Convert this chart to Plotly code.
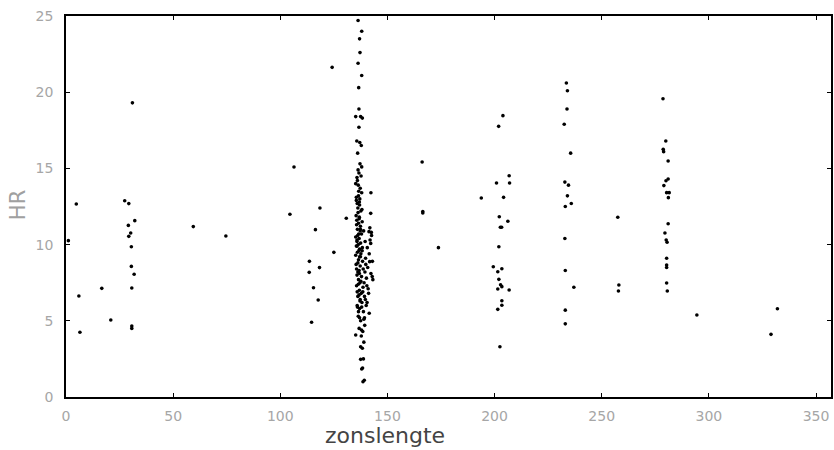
import plotly.graph_objects as go

# ---- data: zonslengte (x) vs HR (y) ----
# scattered points outside the dense band near 137
lon_scatter = [4.8, 1.1, 6.0, 6.5, 16.7, 20.9,
               27.4, 29.3, 32.1, 29.1, 30.2, 29.3, 30.5, 30.5, 31.8, 30.7, 30.7, 30.7, 31.0,
               59.4, 74.6,
               106.4, 104.5, 118.5, 116.4, 125.0, 113.6, 118.3, 113.5, 115.5, 117.7, 114.6, 124.2, 130.8,
               166.2, 166.5, 166.5, 173.8, 193.8,
               203.9, 201.9, 206.8, 200.9, 207.0, 204.2, 202.2, 206.2, 202.7, 203.3, 202.0, 199.4,
               203.4, 201.5, 202.0, 202.8, 203.4, 201.5, 206.8, 203.4, 203.4, 201.5, 202.5,
               233.5, 234.0, 233.8, 232.5, 235.5, 232.8, 234.5, 234.0, 235.8, 233.0, 232.8, 233.0,
               237.0, 233.0, 233.0,
               257.5, 258.0, 257.8,
               278.6, 279.9, 278.7, 278.9, 281.0, 281.0, 280.0, 279.0, 280.3, 281.5, 281.1, 281.0,
               279.5, 280.1, 280.5, 280.3, 280.3, 280.3, 280.3, 280.6,
               294.4, 332.0, 329.0]
hr_scatter = [12.66, 10.26, 6.63, 4.25, 7.13, 5.05,
              12.88, 12.69, 11.57, 11.26, 10.76, 10.54, 9.86, 8.57, 8.05, 7.15, 4.66, 4.50, 19.3,
              11.18, 10.56,
              15.09, 11.99, 12.40, 10.98, 9.49, 8.90, 8.49, 8.18, 7.17, 6.36, 4.90, 21.63, 11.73,
              15.42, 12.07, 12.17, 9.80, 13.06,
              18.46, 17.76, 14.52, 14.04, 14.04, 13.10, 11.83, 11.53, 11.14, 11.14, 9.86, 8.55,
              8.42, 8.22, 7.72, 7.37, 7.24, 7.09, 7.02, 6.32, 6.02, 5.75, 3.30,
              20.6, 20.1, 18.9, 17.9, 16.0, 14.1, 13.9, 13.2, 12.7, 12.5, 10.4, 8.3,
              7.2, 5.7, 4.8,
              11.79, 7.35, 6.96,
              19.57, 16.80, 16.25, 16.10, 15.49, 14.30, 14.19, 13.87, 13.41, 13.41, 13.08, 11.37,
              10.76, 10.30, 10.15, 9.10, 8.66, 8.50, 7.48, 6.96,
              5.38, 5.79, 4.11]

# dense band of points near zonslengte 135-143
lon_band = [136.3, 138.0, 137.0, 137.2, 136.3, 138.0, 136.6, 136.7, 135.2, 137.5, 138.3, 136.7,
            135.7, 137.1, 137.8, 136.1, 137.2, 138.0, 136.7, 135.8, 135.2, 136.4, 137.3, 138.0,
            142.3, 136.5, 135.5, 137.0, 136.2, 137.6, 142.2, 135.4, 136.8, 138.2, 135.6, 137.4,
            141.8, 136.0, 142.5, 137.9, 135.2, 136.8, 141.9, 135.8, 137.5, 136.4, 135.5, 138.3,
            137.0, 140.6, 136.0, 135.2, 137.6, 141.5, 139.8, 136.5, 138.4, 143.0, 135.4, 137.3,
            140.8, 136.8, 139.5, 142.3, 135.8, 137.9, 136.5, 140.2, 143.2, 137.2, 135.6, 138.6,
            136.9, 141.0, 137.8, 136.2, 139.3, 137.3, 138.1, 135.9, 140.1, 137.0, 138.8, 136.4,
            141.5, 137.5, 139.4, 136.8, 138.5, 137.8, 135.2, 139.0, 137.5, 138.3, 137.5, 138.8,
            138.0, 138.4, 138.6, 139.2,
            136.0, 136.6, 137.1, 135.9, 136.3, 136.9, 135.7, 136.5, 137.3, 136.1, 135.8, 136.7,
            137.4, 136.2, 135.6, 136.9, 137.6, 136.4, 135.9, 136.8, 137.2, 136.0, 136.5, 137.0,
            138.9, 139.6, 138.2, 139.9, 138.7, 139.1, 140.4, 138.5, 139.7, 138.0, 141.2, 139.3,
            136.3, 137.7, 135.5, 136.9, 138.1, 137.4, 136.6, 135.8, 137.0, 136.2, 141.4, 142.6,
            142.2, 141.7, 142.9, 140.5, 139.0, 137.9]
hr_band = [24.7, 24.0, 23.5, 22.6, 21.9, 21.1, 20.3, 18.9, 18.4, 18.4, 18.3, 17.7,
           16.8, 16.7, 16.5, 16.0, 15.3, 15.1, 14.7, 14.4, 14.0, 13.9, 13.7, 13.4,
           13.4, 13.2, 12.9, 12.6, 12.4, 12.2, 12.05, 11.9, 11.7, 11.5, 11.3, 11.2,
           11.1, 11.0, 10.8, 10.7, 10.5, 10.4, 10.3, 10.2, 10.1, 10.0, 9.9, 9.8,
           9.7, 9.8, 9.5, 9.3, 9.4, 9.4, 9.1, 9.0, 8.9, 8.9, 8.7, 8.6,
           8.5, 8.3, 8.2, 8.1, 8.0, 7.9, 7.7, 7.8, 7.7, 7.5, 7.3, 7.2,
           7.0, 7.1, 6.8, 6.6, 6.6, 6.4, 6.2, 6.0, 6.0, 5.8, 5.6, 5.3,
           5.5, 5.0, 4.7, 4.5, 4.3, 4.0, 4.07, 3.6, 3.3, 3.2, 2.47, 2.5,
           1.84, 1.9, 1.0, 1.1,
           14.2, 13.5, 13.0, 12.7, 12.1, 11.8, 11.6, 11.4, 10.9, 10.6, 10.3, 9.6,
           9.2, 8.8, 8.4, 8.1, 7.6, 7.4, 6.9, 6.7, 6.3, 5.9, 5.6, 5.2,
           10.9, 10.2, 9.6, 8.7, 8.4, 7.5, 7.3, 6.9, 6.4, 5.9, 6.8, 5.2,
           14.9, 14.5, 13.1, 12.8, 12.3, 11.0, 10.7, 9.9, 9.2, 8.2, 10.85, 10.6,
           10.08, 8.88, 7.9, 6.2, 5.1, 4.4]

x_ticks = [0, 50, 100, 150, 200, 250, 300, 350]
y_ticks = [0, 5, 10, 15, 20, 25]
x_title = "zonslengte"
y_title = "HR"

fig = go.Figure()
for xs, ys in ((lon_scatter, hr_scatter), (lon_band, hr_band)):
    fig.add_trace(go.Scatter(
        x=xs, y=ys, mode="markers",
        marker=dict(color="black", size=3.6, line=dict(width=0)),
        showlegend=False, hoverinfo="skip"))

axis_common = dict(
    showline=True, linecolor="black", linewidth=1.6, mirror="ticks",
    ticks="inside", ticklen=4, tickwidth=1.2, tickcolor="black",
    showgrid=False, zeroline=False,
    tickfont=dict(family="DejaVu Sans", size=14, color="#a6a6a6"),
)

fig.update_layout(
    width=834, height=450,
    margin=dict(l=66, r=1, t=16, b=53),
    paper_bgcolor="white", plot_bgcolor="white",
    xaxis=dict(range=[0, 357], tickvals=x_ticks, ticktext=[str(v) for v in x_ticks],
               ticklabelstandoff=5, **axis_common),
    yaxis=dict(range=[0, 25], tickvals=y_ticks, ticktext=[str(v) for v in y_ticks],
               ticklabelstandoff=8, **axis_common),
    annotations=[
        dict(text=x_title, xref="paper", yref="paper", x=(386 - 66) / 767, y=-38 / 381,
             xanchor="center", yanchor="middle", showarrow=False,
             font=dict(family="DejaVu Sans", size=22, color="#444444")),
        dict(text=y_title, xref="paper", yref="paper", x=(18 - 66) / 767, y=(397 - 205) / 381,
             xanchor="center", yanchor="middle", showarrow=False, textangle=-90,
             font=dict(family="DejaVu Sans", size=21, color="#a0a0a0")),
    ],
)

fig.write_html("out.html")
